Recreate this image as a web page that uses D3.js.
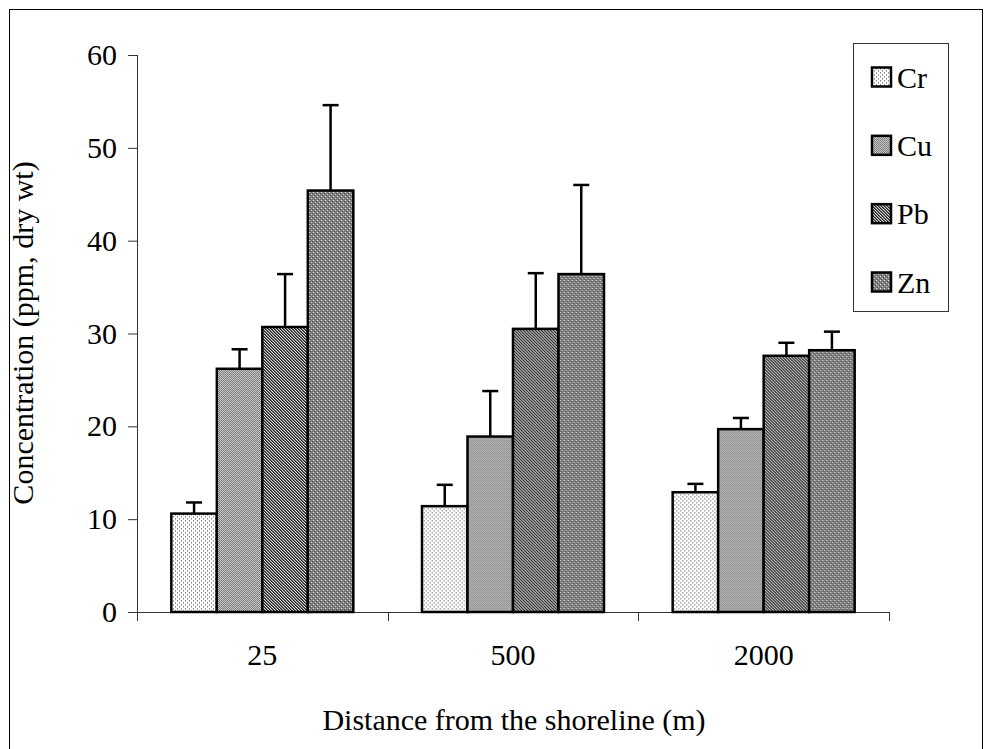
<!DOCTYPE html>
<html>
<head>
<meta charset="utf-8">
<script src="https://cdn.jsdelivr.net/npm/d3@7"></script>
<style>
  body { margin: 0; background: #fff; }
  svg { display: block; font-family: "Liberation Serif", "Times New Roman", serif; }
</style>
</head>
<body>
<svg id="chart" width="984" height="749"></svg>
<script>
// distances from the shoreline (m)
var categories = ["25", "500", "2000"];
var metals = ["Cr", "Cu", "Pb", "Zn"];

// mean concentrations (ppm, dry wt)
var crMean = [10.6, 11.4, 12.9];
var cuMean = [26.2, 18.9, 19.7];
var pbMean = [30.7, 30.5, 27.6];
var znMean = [45.4, 36.4, 28.2];

// upper error (std dev)
var crErr = [1.2, 2.3, 0.9];
var cuErr = [2.1, 4.9, 1.2];
var pbErr = [5.7, 6.0, 1.4];
var znErr = [9.2, 9.6, 2.0];

var yTicks = [0, 10, 20, 30, 40, 50, 60];

var means = { Cr: crMean, Cu: cuMean, Pb: pbMean, Zn: znMean };
var errs = { Cr: crErr, Cu: cuErr, Pb: pbErr, Zn: znErr };

var fontSize = 30;

var svg = d3.select("#chart");
var defs = svg.append("defs");

// pixel fill patterns like the old Excel ones
function pattern(id, size, bg, pixels) {
  var p = defs.append("pattern")
      .attr("id", id)
      .attr("patternUnits", "userSpaceOnUse")
      .attr("width", size).attr("height", size);
  p.append("rect").attr("width", size).attr("height", size).attr("fill", bg);
  pixels.forEach(function(px) {
    p.append("rect").attr("x", px[0]).attr("y", px[1])
      .attr("width", 1).attr("height", 1).attr("fill", px[2]);
  });
}
pattern("pCr", 4, "#ffffff", [[0,0,"#8a8a8a"],[0,1,"#b0b0b0"],[2,2,"#8a8a8a"],[2,3,"#b0b0b0"]]);
pattern("pCu", 2, "#c4c4c4", [[0,0,"#7a7a7a"],[1,1,"#8a8a8a"]]);
pattern("pPb", 3, "#d8d8d8", [[0,0,"#222"],[1,1,"#222"],[2,2,"#222"],[1,0,"#666"],[2,1,"#666"],[0,2,"#666"]]);
pattern("pZn", 4, "#7e7e7e", [[0,0,"#e8e8e8"],[2,2,"#d0d0d0"],[1,3,"#555"],[3,1,"#555"]]);

// outer frame
svg.append("rect")
  .attr("x", 9.5).attr("y", 9.5)
  .attr("width", 973).attr("height", 760)
  .attr("fill", "none").attr("stroke", "#000").attr("stroke-width", 1);

var x = d3.scaleBand().domain(categories).range([137, 889]);
var xSub = d3.scaleBand().domain(metals)
  .range([x.bandwidth() / 2 - 91, x.bandwidth() / 2 + 91]);
var y = d3.scaleLinear().domain([0, 60]).range([612, 55]);

// y axis
var yAxis = svg.append("g")
  .attr("transform", "translate(137,0)")
  .call(d3.axisLeft(y).tickValues(yTicks).tickSize(9).tickPadding(11));
yAxis.selectAll("path, line").attr("stroke", "#333");
yAxis.select(".domain").attr("d", "M0.5," + y(60) + "V" + y(0));
yAxis.selectAll("text").attr("font-size", fontSize).attr("fill", "#000")
  .attr("font-family", "Liberation Serif");

// x axis: ticks on the band edges
var xAxis = svg.append("g").attr("transform", "translate(0,612)");
xAxis.append("line")
  .attr("x1", 137).attr("x2", 889).attr("y1", 0.5).attr("y2", 0.5)
  .attr("stroke", "#333");
var edges = categories.map(function(c) { return x(c); }).concat([x.range()[1]]);
xAxis.selectAll(".edge").data(edges).enter().append("line")
  .attr("x1", function(d) { return Math.round(d) + 0.5; })
  .attr("x2", function(d) { return Math.round(d) + 0.5; })
  .attr("y1", 0).attr("y2", 9).attr("stroke", "#333");
xAxis.selectAll(".lab").data(categories).enter().append("text")
  .attr("x", function(d) { return x(d) + x.bandwidth() / 2; })
  .attr("y", 53)
  .attr("text-anchor", "middle")
  .attr("font-size", fontSize)
  .text(function(d) { return d; });

// bars
var groups = svg.selectAll(".grp").data(categories).enter().append("g")
  .attr("transform", function(d) { return "translate(" + x(d) + ",0)"; });

metals.forEach(function(m) {
  groups.append("line")
    .attr("x1", function(d, i) { return xSub(m) + xSub.bandwidth() / 2; })
    .attr("x2", function(d, i) { return xSub(m) + xSub.bandwidth() / 2; })
    .attr("y1", function(d, i) { return y(means[m][i]); })
    .attr("y2", function(d, i) { return y(means[m][i] + errs[m][i]); })
    .attr("stroke", "#000").attr("stroke-width", 2.5);
  groups.append("line")
    .attr("x1", function(d, i) { return xSub(m) + xSub.bandwidth() / 2 - 8; })
    .attr("x2", function(d, i) { return xSub(m) + xSub.bandwidth() / 2 + 8; })
    .attr("y1", function(d, i) { return y(means[m][i] + errs[m][i]); })
    .attr("y2", function(d, i) { return y(means[m][i] + errs[m][i]); })
    .attr("stroke", "#000").attr("stroke-width", 2.5);
  groups.append("rect")
    .attr("x", xSub(m))
    .attr("y", function(d, i) { return y(means[m][i]); })
    .attr("width", xSub.bandwidth())
    .attr("height", function(d, i) { return y(0) - y(means[m][i]); })
    .attr("fill", "url(#p" + m + ")")
    .attr("stroke", "#000").attr("stroke-width", 2.5);
});

// axis titles
svg.append("text")
  .attr("transform", "translate(22,333) rotate(-90)")
  .attr("text-anchor", "middle")
  .attr("dy", "0.35em")
  .attr("font-size", fontSize)
  .text("Concentration (ppm, dry wt)");

svg.append("text")
  .attr("x", 514).attr("y", 730)
  .attr("text-anchor", "middle")
  .attr("font-size", fontSize)
  .text("Distance from the shoreline (m)");

// legend
var legend = svg.append("g");
legend.append("rect")
  .attr("x", 853.5).attr("y", 43.5)
  .attr("width", 95).attr("height", 268)
  .attr("fill", "#fff").attr("stroke", "#333").attr("stroke-width", 1);
var ly = d3.scalePoint().domain(metals).range([77, 282]);
metals.forEach(function(m) {
  legend.append("rect")
    .attr("x", 872).attr("y", ly(m) - 9.5)
    .attr("width", 19).attr("height", 19)
    .attr("fill", "url(#p" + m + ")")
    .attr("stroke", "#000").attr("stroke-width", 2.5);
  legend.append("text")
    .attr("x", 897).attr("y", ly(m))
    .attr("dy", "0.35em")
    .attr("font-size", fontSize)
    .text(m);
});
</script>
</body>
</html>
